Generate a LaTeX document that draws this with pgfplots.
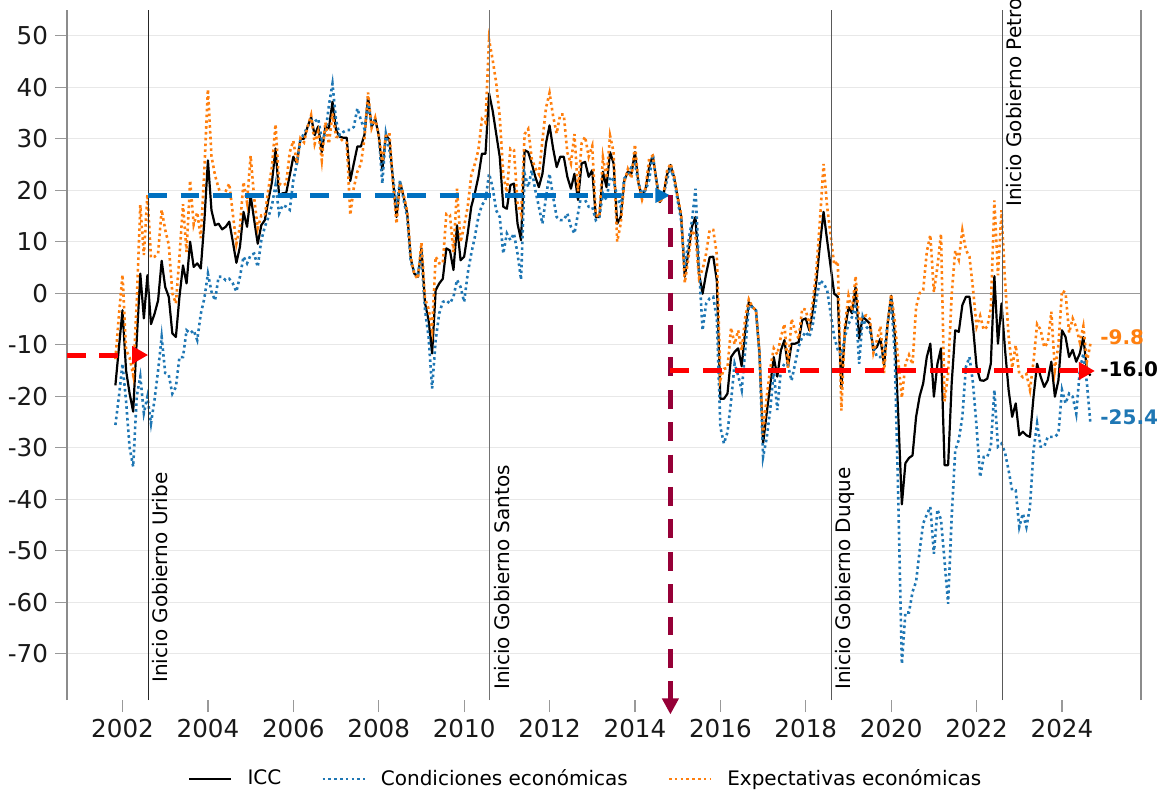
\documentclass[border=0pt]{standalone}
\usepackage{fontspec}
\setmainfont{DejaVu Sans}
\usepackage{pgfplots}
\usepackage{pgfplotstable}
\pgfplotsset{compat=1.18}
\usetikzlibrary{arrows.meta}
\definecolor{cblue}{HTML}{1F77B4}
\definecolor{corange}{HTML}{FF7F0E}
\definecolor{arrblue}{HTML}{0070C0}
\definecolor{purp}{RGB}{150,0,55}

\pgfplotstableread{
n icc ice iec
0 -17.9 -25.6 -12.8
1 -10.5 -20.0 -4.2
2 -3.3 -13.7 3.6
3 -15.0 -21.0 -11.0
4 -19.5 -30.0 -12.5
5 -23.0 -33.7 -15.9
6 -9.0 -20.0 -1.7
7 3.8 -16.2 17.1
8 -4.9 -23.3 7.4
9 3.5 -20.1 19.2
10 -6.0 -25.3 6.9
11 -4.0 -20.7 7.1
12 -1.4 -15.0 7.7
13 6.3 -8.5 16.2
14 1.2 -15.5 12.3
15 -0.7 -15.9 9.4
16 -7.8 -19.5 0.0
17 -8.5 -18.2 -2.0
18 -0.7 -12.4 7.1
19 5.4 -12.4 17.3
20 1.9 -7.2 8.0
21 10.0 -7.8 21.9
22 5.1 -7.2 13.3
23 5.8 -9.1 15.7
24 4.8 -4.0 10.7
25 14.0 -1.0 24.0
26 25.8 3.8 39.6
27 16.1 0.3 26.6
28 13.2 -1.4 22.9
29 13.5 3.2 20.4
30 12.4 3.2 18.5
31 12.9 2.5 19.8
32 13.9 2.8 21.3
33 10.0 1.9 15.4
34 5.9 0.3 9.6
35 9.0 3.2 12.9
36 15.8 7.1 21.6
37 12.9 5.8 17.6
38 19.0 7.4 26.7
39 14.2 7.7 18.5
40 9.6 5.1 12.6
41 13.2 10.3 15.1
42 14.2 12.9 15.1
43 18.1 14.8 20.3
44 21.6 17.1 24.6
45 28.1 21.0 32.8
46 19.0 15.5 21.3
47 19.4 17.1 20.9
48 19.5 16.8 21.3
49 22.9 16.2 27.4
50 26.5 21.9 29.6
51 25.2 25.2 25.2
52 30.0 29.8 30.1
53 30.0 31.0 29.3
54 32.3 32.3 32.3
55 34.2 33.6 34.6
56 30.7 33.3 29.0
57 32.4 33.9 31.4
58 27.4 29.8 25.8
59 32.3 31.0 33.2
60 32.0 36.5 29.0
61 37.2 40.7 34.9
62 31.7 33.6 30.4
63 30.4 30.7 30.2
64 30.2 31.3 29.5
65 30.2 31.7 29.2
66 21.8 31.7 15.2
67 25.2 32.3 20.5
68 28.5 35.9 23.6
69 28.5 33.6 25.1
70 30.8 31.9 30.1
71 38.1 36.8 39.0
72 32.3 32.6 32.1
73 33.9 33.6 34.1
74 30.7 31.0 30.5
75 23.9 21.3 25.6
76 30.7 31.0 30.5
77 29.8 27.8 31.1
78 21.9 22.6 21.4
79 14.8 16.8 13.5
80 21.6 21.9 21.4
81 18.7 18.1 19.1
82 15.5 14.8 16.0
83 6.7 6.1 7.1
84 3.8 4.1 3.6
85 3.2 3.8 2.8
86 8.7 7.1 9.8
87 -1.9 -3.2 -1.0
88 -5.2 -8.5 -3.0
89 -11.7 -18.5 -7.2
90 0.6 -9.1 7.1
91 1.9 -3.9 5.8
92 2.8 -1.7 5.8
93 8.7 -1.4 15.4
94 8.3 -2.0 15.2
95 4.5 -0.7 8.0
96 13.2 2.6 20.3
97 6.4 1.2 9.9
98 7.1 -1.7 13.0
99 11.6 3.8 16.8
100 16.8 7.7 22.9
101 19.4 10.9 25.1
102 22.6 14.8 27.8
103 27.1 17.1 33.8
104 27.1 18.1 33.1
105 38.8 23.2 49.2
106 35.5 20.6 45.4
107 31.0 16.1 40.9
108 26.5 14.8 34.3
109 16.8 7.7 22.9
110 16.4 11.6 19.6
111 21.0 10.3 28.1
112 21.3 11.6 27.8
113 13.5 7.7 17.4
114 10.3 2.6 15.4
115 27.8 23.2 30.9
116 27.4 20.6 31.9
117 25.2 23.9 26.1
118 22.6 20.0 24.3
119 20.6 16.8 23.1
120 23.2 13.5 29.7
121 29.1 18.7 36.0
122 32.6 23.2 38.9
123 28.1 18.7 34.4
124 24.5 14.8 31.0
125 26.5 14.2 34.7
126 26.5 14.2 34.7
127 22.6 15.5 27.3
128 20.3 12.9 25.2
129 23.2 11.6 30.9
130 18.1 15.5 19.8
131 25.2 19.4 29.1
132 25.5 18.1 30.4
133 22.6 16.8 26.5
134 23.9 16.8 28.6
135 14.8 14.2 15.2
136 14.8 14.8 14.8
137 23.6 19.4 26.4
138 20.6 18.1 22.3
139 27.4 22.6 30.6
140 25.2 21.9 27.4
141 13.5 18.7 10.0
142 14.8 16.8 13.5
143 21.9 22.3 21.6
144 23.6 22.9 24.1
145 23.2 24.5 22.3
146 27.4 25.2 28.9
147 21.3 21.3 21.3
148 18.7 19.4 18.2
149 20.3 20.0 20.5
150 24.5 22.0 26.2
151 26.8 27.0 26.7
152 22.0 22.0 22.0
153 17.7 18.0 17.5
154 19.0 19.0 19.0
155 23.0 22.0 23.7
156 24.9 24.5 25.2
157 22.5 22.0 22.8
158 18.5 18.0 18.8
159 14.8 14.0 15.3
160 3.2 5.0 2.0
161 8.0 10.0 6.7
162 12.9 14.0 12.2
163 14.8 20.3 11.1
164 3.8 5.0 3.0
165 -0.1 -7.2 4.6
166 3.8 -2.0 7.7
167 7.0 -1.0 12.3
168 7.1 -0.7 12.3
169 2.5 -5.0 7.5
170 -20.5 -26.0 -16.8
171 -20.5 -29.2 -14.7
172 -19.5 -27.0 -14.5
173 -12.4 -21.0 -6.7
174 -11.4 -13.7 -9.9
175 -10.7 -16.0 -7.2
176 -14.2 -18.8 -11.1
177 -7.2 -11.0 -4.7
178 -1.7 -2.5 -1.2
179 -2.7 -2.7 -2.7
180 -3.3 -3.3 -3.3
181 -11.7 -12.0 -11.5
182 -29.2 -31.8 -27.5
183 -23.4 -28.2 -20.2
184 -17.9 -22.7 -14.7
185 -12.4 -15.0 -10.7
186 -16.2 -22.7 -11.9
187 -11.1 -15.0 -8.5
188 -9.1 -13.7 -6.0
189 -14.3 -14.0 -14.5
190 -9.8 -17.0 -5.0
191 -9.8 -13.7 -7.2
192 -9.5 -10.4 -8.9
193 -5.2 -8.5 -3.0
194 -4.9 -7.5 -3.2
195 -7.2 -8.5 -6.3
196 -3.3 -6.0 -1.5
197 2.5 -1.0 4.8
198 9.6 2.5 14.3
199 15.8 1.9 25.1
200 10.3 0.6 16.8
201 5.1 -4.0 11.2
202 -0.1 -8.5 5.5
203 -0.7 -11.0 6.2
204 -18.5 -12.0 -22.8
205 -7.2 -8.5 -6.3
206 -2.7 -6.0 -0.5
207 -3.9 -4.6 -3.4
208 1.2 -2.0 3.3
209 -8.8 -13.7 -5.5
210 -4.6 -4.6 -4.6
211 -5.2 -6.5 -4.3
212 -5.9 -7.2 -5.0
213 -11.1 -10.4 -11.6
214 -10.4 -12.4 -9.1
215 -8.8 -12.4 -6.4
216 -14.0 -11.7 -15.5
217 -5.9 -5.9 -5.9
218 -0.5 -1.0 -0.2
219 -8.0 -12.0 -5.3
220 -24.0 -40.0 -13.3
221 -41.0 -72.0 -20.3
222 -33.0 -62.0 -13.7
223 -32.0 -62.0 -12.0
224 -31.5 -58.0 -13.8
225 -24.0 -56.0 -2.7
226 -20.0 -50.0 0.0
227 -17.5 -44.7 0.6
228 -12.4 -43.0 8.0
229 -9.8 -41.5 11.3
230 -20.1 -50.6 0.2
231 -13.7 -42.0 5.2
232 -10.7 -44.0 11.5
233 -33.4 -52.0 -21.0
234 -33.4 -60.3 -15.5
235 -17.5 -43.4 -0.2
236 -7.2 -30.5 8.3
237 -7.5 -28.5 6.5
238 -2.3 -24.0 12.2
239 -0.7 -14.3 8.4
240 -0.7 -12.4 7.1
241 -6.5 -17.5 0.8
242 -14.3 -26.0 -6.5
243 -16.9 -35.7 -4.4
244 -17.0 -31.8 -7.1
245 -16.6 -31.8 -6.5
246 -13.7 -29.8 -3.0
247 3.3 -18.8 18.0
248 -9.8 -29.8 3.5
249 -2.0 -29.2 16.1
250 -11.0 -31.0 2.3
251 -18.8 -34.4 -8.4
252 -24.0 -38.3 -14.5
253 -21.4 -38.3 -10.1
254 -27.6 -45.4 -15.7
255 -26.9 -42.8 -16.3
256 -27.6 -45.4 -15.7
257 -27.9 -41.5 -18.8
258 -20.1 -30.5 -13.2
259 -13.7 -25.3 -6.0
260 -16.2 -29.8 -7.1
261 -18.2 -29.8 -10.5
262 -16.9 -27.9 -9.6
263 -13.3 -27.9 -3.6
264 -20.1 -27.9 -14.9
265 -16.9 -27.2 -10.0
266 -7.2 -18.8 0.5
267 -8.5 -21.4 0.1
268 -12.4 -19.5 -7.7
269 -11.0 -20.1 -4.9
270 -13.3 -23.4 -6.6
271 -11.7 -15.0 -9.5
272 -8.5 -11.7 -6.4
273 -15.0 -17.5 -13.3
274 -16.0 -25.4 -9.8
}\datatable

\begin{document}
\begin{tikzpicture}
\begin{axis}[
  at={(0,0)}, anchor=south west,
  scale only axis, width=537bp, height=345bp,
  xmin=2000.70, xmax=2025.85, ymin=-79, ymax=55,
  clip=false,
  axis line style={draw=none},
  xtick={2002,2004,...,2024},
  ytick={-70,-60,...,50},
  xtick pos=left, ytick pos=left,
  tick align=outside,
  major tick length=6bp,
  tick style={black!40, line width=0.6bp},
  ymajorgrids, grid style={black!9, line width=0.6bp},
  /pgf/number format/assume math mode=true,
  /pgf/number format/1000 sep={},
  tick label style={font=\fontsize{12.3bp}{14bp}\selectfont, text=black!90},
  extra y ticks={0}, extra y tick labels={},
  extra y tick style={grid style={black!40, line width=0.7bp}, major tick length=0pt},
  legend style={at={(0.484,-0.1145)}, anchor=center, draw=none, fill=none,
    legend columns=3, font=\fontsize{10bp}{12bp}\selectfont,
    /tikz/every odd column/.append style={column sep=5.5bp},
    /tikz/every even column/.append style={column sep=18bp}},
  legend image code/.code={\draw[#1] (0bp,0bp) -- (21bp,0bp);},
]
\draw[black!45, line width=0.6bp] (rel axis cs:0,0) -- (rel axis cs:0,1);
\draw[black!45, line width=0.6bp] (rel axis cs:1,0) -- (rel axis cs:1,1);

\addplot[black, line width=1.1bp, line join=round] table[x expr=2001.8333+\thisrow{n}/12, y=icc] {\datatable};
\addlegendentry{ICC}
\addplot[cblue, line width=1.3bp, dash pattern=on 1.3bp off 1.6bp] table[x expr=2001.8333+\thisrow{n}/12, y=ice] {\datatable};
\addlegendentry{Condiciones económicas}
\addplot[corange, line width=1.3bp, dash pattern=on 1.3bp off 1.6bp] table[x expr=2001.8333+\thisrow{n}/12, y=iec] {\datatable};
\addlegendentry{Expectativas económicas}

\draw[black!85, line width=0.5bp] (axis cs:2002.6,-79) -- (axis cs:2002.6,55);
\draw[black!55, line width=0.6bp] (axis cs:2010.6,-79) -- (axis cs:2010.6,55);
\draw[black!65, line width=0.6bp] (axis cs:2018.6,-79) -- (axis cs:2018.6,55);
\draw[black!65, line width=0.6bp] (axis cs:2022.6,-79) -- (axis cs:2022.6,55);
\node[rotate=90, anchor=north west, inner sep=0pt, font=\fontsize{10bp}{12bp}\selectfont] at ([xshift=2bp]axis cs:2002.6,-75.7) {Inicio Gobierno Uribe};
\node[rotate=90, anchor=north west, inner sep=0pt, font=\fontsize{10bp}{12bp}\selectfont] at ([xshift=2bp]axis cs:2010.6,-77.1) {Inicio Gobierno Santos};
\node[rotate=90, anchor=north west, inner sep=0pt, font=\fontsize{10bp}{12bp}\selectfont] at ([xshift=2bp]axis cs:2018.6,-77.1) {Inicio Gobierno Duque};
\node[rotate=90, anchor=north west, inner sep=0pt, font=\fontsize{10bp}{12bp}\selectfont] at ([xshift=2bp]axis cs:2022.6,16.7) {Inicio Gobierno Petro};

\draw[red, line width=2.5bp, dash pattern=on 9.4bp off 6.8bp, -{Triangle[length=8bp,width=8.5bp]}] (axis cs:2000.70,-12) -- (axis cs:2002.6,-12);
\draw[arrblue, line width=2.4bp, dash pattern=on 9.4bp off 6.8bp, -{Triangle[length=7.5bp,width=7bp]}] (axis cs:2002.6,19) -- (axis cs:2014.83,19);
\draw[purp, line width=2.4bp, dash pattern=on 9.4bp off 6.8bp, -{Triangle[length=8bp,width=8bp]}] (axis cs:2014.83,19) -- (axis cs:2014.83,-81.8);
\draw[red, line width=2.5bp, dash pattern=on 9.4bp off 6.8bp, -{Triangle[length=8bp,width=8.5bp]}] (axis cs:2014.83,-15.1) -- (axis cs:2024.77,-15.1);

\node[anchor=west, inner sep=0pt, text=corange, font=\bfseries\fontsize{10bp}{12bp}\selectfont] at (axis cs:2024.89,-8.54) {-9.8};
\node[anchor=west, inner sep=0pt, text=black, font=\bfseries\fontsize{10bp}{12bp}\selectfont] at (axis cs:2024.89,-14.76) {-16.0};
\node[anchor=west, inner sep=0pt, text=cblue, font=\bfseries\fontsize{10bp}{12bp}\selectfont] at (axis cs:2024.89,-24.1) {-25.4};
\end{axis}
\pgfresetboundingbox
\path[use as bounding box] (-33.5bp,-47bp) rectangle (548bp,350bp);
\end{tikzpicture}
\end{document}
